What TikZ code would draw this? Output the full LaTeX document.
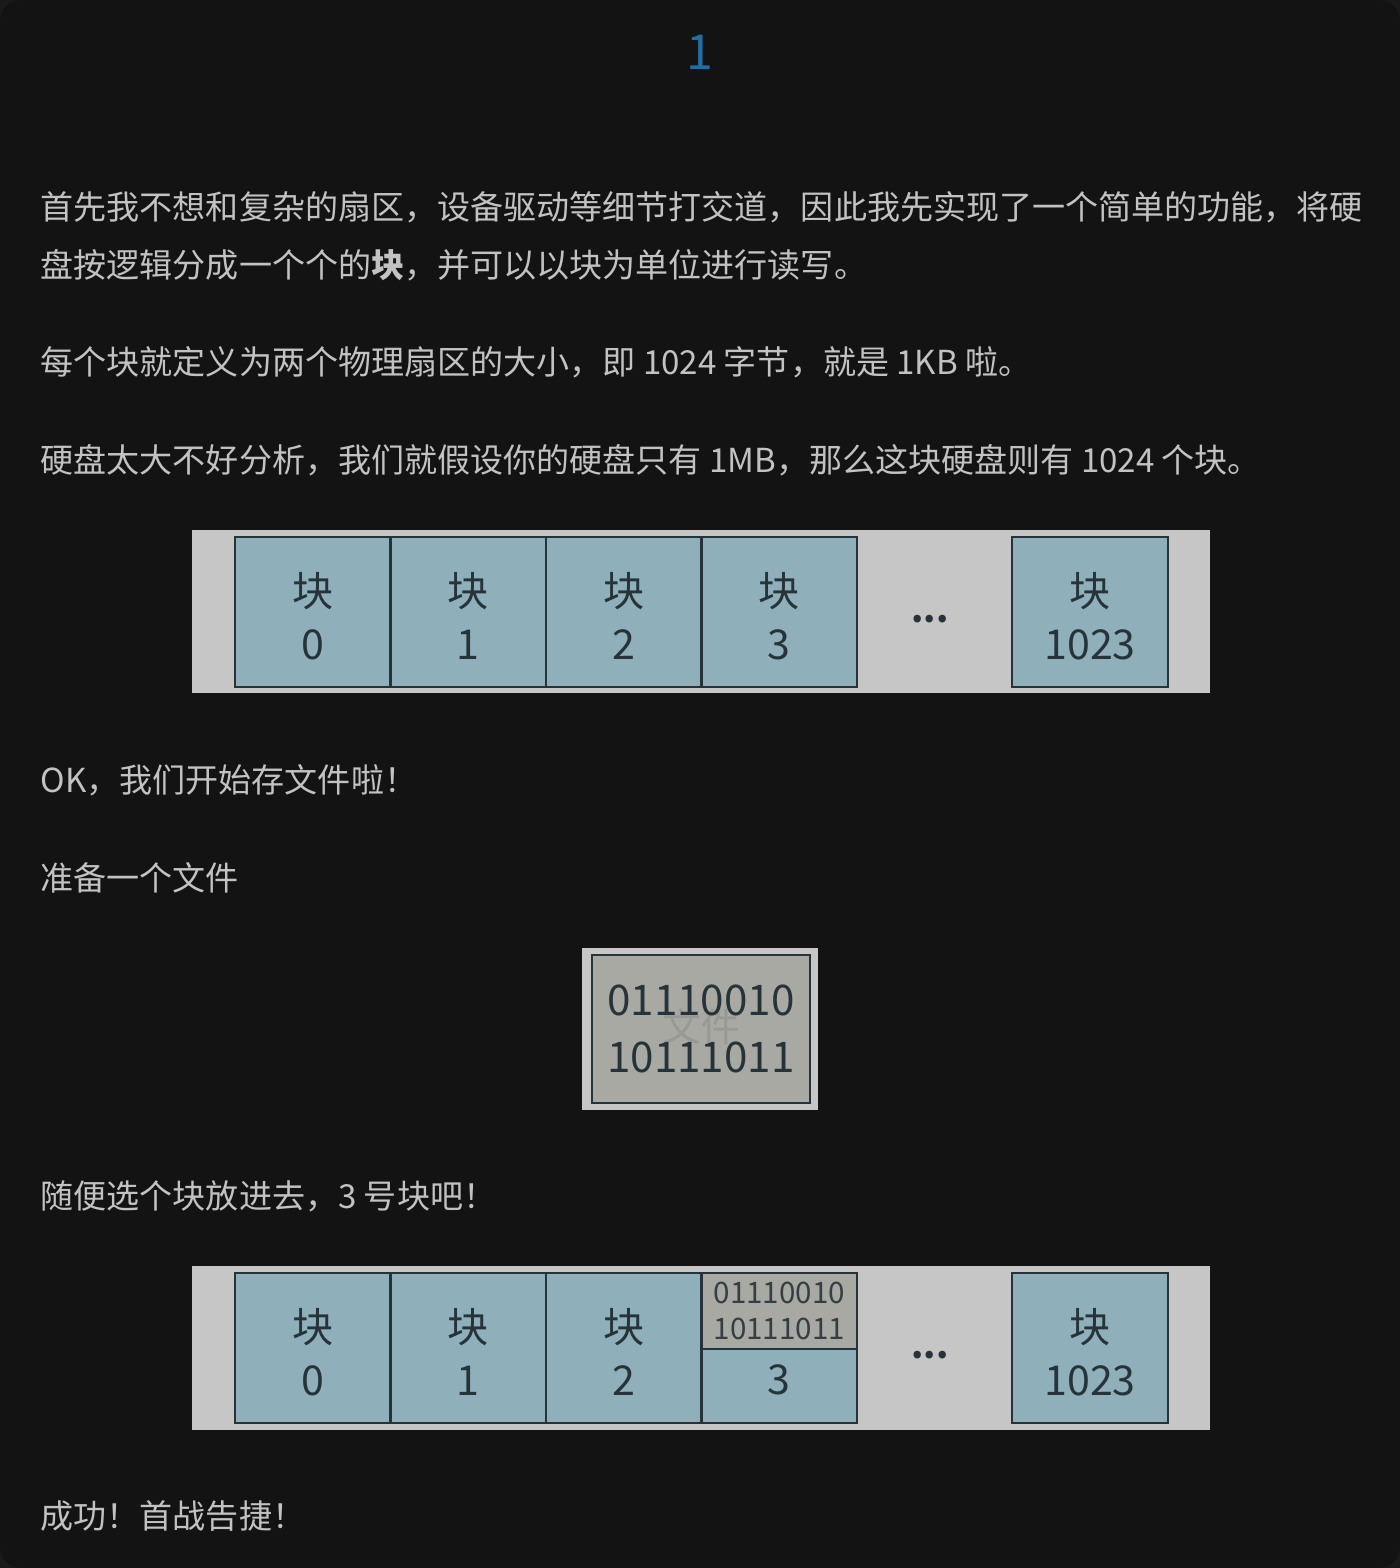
\documentclass[tikz,border=0pt]{standalone}
\usepackage{fontspec}
\setmainfont{Noto Sans CJK SC}
\usetikzlibrary{positioning}
\definecolor{pagebg}{HTML}{131313}
\definecolor{bodytext}{HTML}{C2C2C2}
\definecolor{titleblue}{HTML}{1F6FA5}
\definecolor{stripbg}{HTML}{C6C6C6}
\definecolor{blockfill}{HTML}{8FAFBA}
\definecolor{blockink}{HTML}{26343A}
\definecolor{filefill}{HTML}{A7A9A2}
\definecolor{fileghost}{HTML}{979993}
\begin{document}
\begin{tikzpicture}[x=0.01cm,y=-0.01cm,
        para/.style={anchor=west,inner sep=0pt,text=bodytext,
            font=\fontsize{9.4pt}{11pt}\selectfont},
        blk/.style={draw=blockink,line width=0.7pt,fill=blockfill,
            minimum width=1.555cm,minimum height=1.5cm,inner sep=0pt,
            text=blockink,align=center,
            font=\fontsize{11.7pt}{15pt}\selectfont},
        lbl/.style={text=blockink,align=center,inner sep=0pt,
            font=\fontsize{11.7pt}{15pt}\selectfont},
        strip/.style={fill=stripbg,draw=none}]
\useasboundingbox (0,0) rectangle (1400,1568);
\fill[black!90] (0,0) rectangle (1400,1568);
\fill[pagebg,rounded corners=6] (0,0) rectangle (1400,1568);

\node[text=titleblue,font=\fontsize{13.7pt}{16pt}\selectfont] (title) at (700,52) {1};

\node[para] (p1a) at (40,207) {首先我不想和复杂的扇区，设备驱动等细节打交道，因此我先实现了一个简单的功能，将硬};
\node[para] (p1b) at (40,265) {盘按逻辑分成一个个的\textbf{块}，并可以以块为单位进行读写。};
\node[para] (p2) at (40,362) {每个块就定义为两个物理扇区的大小，即 1024 字节，就是 1KB 啦。};
\node[para] (p3) at (40,460) {硬盘太大不好分析，我们就假设你的硬盘只有 1MB，那么这块硬盘则有 1024 个块。};

% first strip of blocks
\fill[strip] (192,530) rectangle (1210,693);
\foreach \i in {0,...,3} {
    \node[blk] (a\i) at ({312.75+155.5*\i},612) {};
    \node[lbl] (a\i txt) at ({312.75+155.5*\i},616) {块\\\i};
}
\node[text=blockink,font=\bfseries] (adots) at (930,619) {...};
\node[blk] (alast) at (1090,612) {};
\node[lbl] (alasttxt) at (1090,616) {块\\1023};

\node[para] (p4) at (40,780) {OK，我们开始存文件啦！};
\node[para] (p5) at (40,878) {准备一个文件};

% the file
\fill[strip] (582,948) rectangle (818,1110);
\node[draw=blockink,line width=0.7pt,fill=filefill,minimum width=2.18cm,
    minimum height=1.48cm,inner sep=0pt] (file) at (701,1029) {};
\node[text=fileghost,font=\fontsize{11pt}{13pt}\selectfont] (ghost) at (701,1027) {文件};
\node[text=blockink,align=center,font=\fontsize{12pt}{16.2pt}\selectfont] (bits) at (701,1029) {01110010\\10111011};

\node[para] (p6) at (40,1196) {随便选个块放进去，3 号块吧！};

% second strip, file stored in block 3
\fill[strip] (192,1266) rectangle (1210,1430);
\foreach \i in {0,...,2} {
    \node[blk] (b\i) at ({312.75+155.5*\i},1348) {};
    \node[lbl] (b\i txt) at ({312.75+155.5*\i},1352) {块\\\i};
}
\node[blk,fill=filefill,minimum height=0.76cm,
    font=\fontsize{8.4pt}{10.3pt}\selectfont,text=blockink!85!gray] (b3top) at (779.25,1311) {01110010\\10111011};
\node[blk,minimum height=0.74cm] (b3) at (779.25,1386) {};
\node[lbl] (b3txt) at (779.25,1380) {3};
\node[text=blockink,font=\bfseries] (bdots) at (930,1355) {...};
\node[blk] (blast) at (1090,1348) {};
\node[lbl] (blasttxt) at (1090,1352) {块\\1023};

\node[para] (p7) at (40,1516) {成功！首战告捷！};
\end{tikzpicture}
\end{document}
